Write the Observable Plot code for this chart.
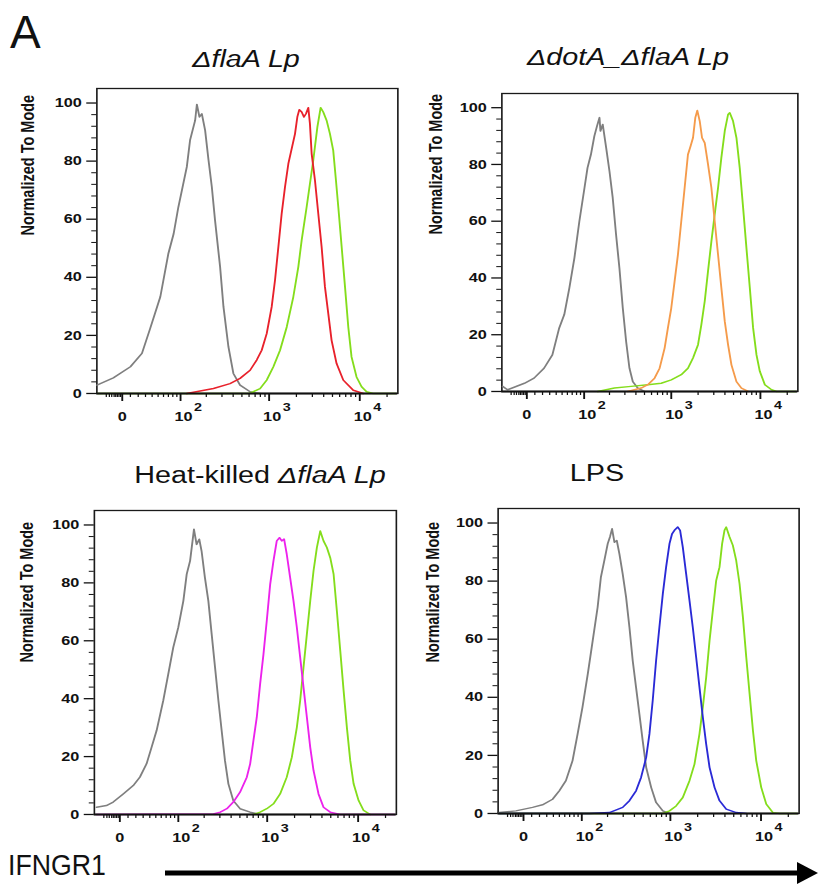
<!DOCTYPE html>
<html>
<head>
<meta charset="utf-8">
<script src="https://cdn.jsdelivr.net/npm/d3@7"></script>
<script src="https://cdn.jsdelivr.net/npm/@observablehq/plot@0.6"></script>
<style>
html, body { margin: 0; padding: 0; background: #fff; }
#page { position: relative; width: 818px; height: 887px; overflow: hidden; font-family: "Liberation Sans", Arial, sans-serif; color: #111; }
#stretch { position: absolute; left: 0; top: 0; width: 654.4px; height: 887px; transform: scaleX(1.25); transform-origin: 0 0; }
.panel { position: absolute; }
.title { position: absolute; font-size: 23px; line-height: 23px; white-space: nowrap; transform: translateX(-50%); }
#letterA { position: absolute; left: 10px; top: 9px; font-size: 46px; line-height: 46px; }
#xname { position: absolute; left: 8px; top: 851px; font-size: 29px; line-height: 29px; transform: scaleX(0.92); transform-origin: 0 0; }
#arrow { position: absolute; left: 0; top: 850px; }
</style>
</head>
<body>
<div id="page">
  <div id="stretch">
    <div class="title" style="left:196.8px; top:47.5px;"><i>ΔflaA Lp</i></div>
    <div class="title" style="left:502.4px; top:45.5px;"><i>ΔdotA_ΔflaA Lp</i></div>
    <div class="title" style="left:208px; top:463.5px;">Heat-killed <i>ΔflaA Lp</i></div>
    <div class="title" style="left:477.6px; top:461.5px;">LPS</div>
  </div>
  <div id="letterA">A</div>
  <div id="xname">IFNGR1</div>
  <svg id="arrow" width="818" height="40">
    <line x1="165" y1="23" x2="802" y2="23" stroke="#000" stroke-width="5"></line>
    <polygon points="797,12 818,23 797,34" fill="#000"></polygon>
  </svg>
</div>
<script>
// ---------------- data: [fluorescence intensity, % of mode] ----------------
const p1Gray = [[-33,2.9],[-11,5.4],[10,9.2],[25,13.8],[37,22.4],[54,33.3],[70,48.2],[82,55],[94,64.2],[104,70],[119,78],[130,87.2],[149,94],[156,99.5],[167,95.2],[178,96.3],[194,90.6],[212,80.3],[231,71.1],[251,59.6],[286,43.6],[312,29.8],[354,16.1],[402,6.9],[477,2.9],[616,0.6],[794,0]];
const p1Red = [[119,0],[241,1.7],[369,3.4],[477,5.2],[616,8.0],[729,11.5],[828,14.9],[940,20.6],[1067,29.8],[1161,39.0],[1265,50.5],[1375,61.9],[1497,71.1],[1630,79.1],[1775,84.3],[1930,89.4],[2048,95.2],[2153,97.7],[2287,96.9],[2422,95.2],[2549,96.3],[2705,98.4],[2820,92.9],[2945,82.6],[3204,73.4],[3487,61.9],[3794,50.5],[4130,36.7],[4495,27.5],[4889,18.3],[5549,10.3],[6581,4.6],[8477,1.1],[10918,0]];
const p1Green = [[-32,0],[600,0],[670,0.6],[794,1.7],[940,4.6],[1114,9.2],[1320,14.9],[1565,22.9],[1850,33.3],[2100,43.6],[2287,52.8],[2594,64.2],[2820,72.2],[3070,80.3],[3406,91.7],[3701,98.4],[3955,96.9],[4308,94],[4690,89.4],[5095,83.7],[5460,73.4],[5796,64.2],[6312,50.5],[6874,36.7],[7469,22.9],[8114,12.6],[9209,5.7],[10476,2.3],[11892,0.6],[14066,0],[25000,0]];

const p2Gray = [[-32,1.8],[-25,0.6],[-3,2.9],[9,4.7],[22,8.2],[34,12.9],[45,22.4],[54,27.1],[64,36.5],[75,47.1],[87,60],[101,71.8],[110,78.8],[121,83.5],[133,90],[143,93.5],[153,96.5],[157,91.8],[167,94.1],[183,85.9],[200,77.6],[218,68.2],[238,55.3],[260,43.5],[284,29.4],[310,17.6],[338,8.2],[369,3.5],[420,1.2],[500,0]];
const p2Orange = [[323,0],[385,0.6],[458,1.2],[545,2.4],[649,4.7],[740,8.2],[842,15.3],[917,22.4],[1000,29.4],[1090,38.8],[1188,48.2],[1295,60],[1413,71.8],[1539,83.5],[1649,86.5],[1754,89.4],[1862,96.5],[1961,99],[2086,95.3],[2215,89.4],[2374,87.6],[2585,80],[2820,71.8],[3072,60],[3350,48.2],[3648,36.5],[3984,24.7],[4337,16.5],[4733,9.4],[5386,3.5],[6127,1.2],[7282,0]];
const p2Green = [[146,0],[228,1.2],[353,1.8],[545,2.4],[771,2.9],[1000,4.1],[1295,5.9],[1539,8.2],[1754,11.8],[1997,16.5],[2174,23.5],[2374,31.8],[2585,42.4],[2820,52.9],[3072,62.4],[3350,71.8],[3648,82.4],[3984,91.8],[4337,97.6],[4531,98.2],[4934,95.3],[5386,89.4],[5863,78.8],[6401,64.7],[6970,50.6],[7608,36.5],[8282,22.4],[9041,12.9],[9845,7.1],[11225,2.4],[13342,0.6],[15178,0],[25000,0]];

const p3Gray = [[-30,2.5],[-16.6,3.1],[-8.1,4.3],[4.1,7.1],[16.6,10],[25.4,12.9],[35,17.5],[42.8,23.2],[51.4,29],[64,39.3],[74.7,48.5],[86.6,57.7],[99.9,64.6],[115,73.8],[126,83],[138,87.6],[153,98.5],[164,93.3],[176,95.1],[187,91],[204,81.8],[223,73.8],[243,62.3],[265,50.8],[289,39.3],[314,29],[342,18.6],[373,10.6],[423,4.8],[502,2],[649,0.8],[836,0]];
const p3Magenta = [[-30,0],[254,0.2],[303,0.8],[359,2],[423,4.3],[502,7.7],[596,12.9],[649,17.5],[705,25.5],[768,33.6],[836,45.1],[910,55.4],[989,66.9],[1078,79.5],[1172,87.6],[1274,94.5],[1365,95.6],[1447,94.5],[1535,95.1],[1641,89.9],[1788,81.8],[1946,73.8],[2119,64.6],[2304,54.3],[2508,43.9],[2731,33.6],[2974,23.2],[3231,15.2],[3667,7.1],[4162,2.5],[4934,0.8],[6357,0],[25000,0]];
const p3Green = [[705,0],[836,0.8],[989,2],[1172,3.7],[1387,7.1],[1641,12.9],[1867,19.8],[2119,30.1],[2304,39.3],[2508,50.8],[2731,62.3],[2974,73.8],[3231,84.1],[3518,92.2],[3830,97.9],[4162,94.5],[4531,92.2],[4934,88.7],[5373,83],[5837,70.3],[6357,56.6],[6922,42.8],[7519,30.1],[8189,18.6],[8916,10.6],[10121,4.8],[11486,1.4],[13589,0]];

const p4Gray = [[-31.7,0.3],[-9.4,0.9],[11.1,2.1],[24.1,3],[38.7,4.9],[49.8,7.8],[62.3,11.3],[76.5,18.2],[88.8,27.4],[102,36.6],[118,48],[135,59.5],[154,71],[168,81.4],[184,87.1],[201,92.9],[213,95.2],[225,98],[239,93.4],[254,94],[272,89.4],[296,82.5],[323,74.5],[352,64.1],[383,52.6],[417,43.4],[454,34.3],[494,25.1],[540,15.9],[613,9],[695,3.8],[825,0.9],[978,0]];
const p4Blue = [[-32,0],[123,0],[210,0.3],[296,2.1],[352,4.4],[417,7.8],[474,12.4],[540,19.3],[587,27.4],[638,38.9],[695,52.6],[756,64.1],[825,75.6],[897,84.8],[978,92.9],[1044,96.3],[1109,97.5],[1207,98.6],[1280,97.5],[1371,91.7],[1493,82.5],[1626,73.3],[1767,64.1],[1925,53.8],[2095,43.4],[2282,33.1],[2484,23.9],[2705,15.9],[3070,9],[3485,4.4],[4133,1.5],[5323,0.3],[6874,0]];
const p4Green = [[-32,0],[825,0],[978,0.9],[1157,2.6],[1371,5.5],[1626,11.3],[1846,17],[2095,27.4],[2282,36.6],[2484,46.9],[2705,59.5],[2940,69.9],[3202,80.2],[3485,84.8],[3725,92.9],[3955,97.5],[4133,98.6],[4500,95.2],[4889,92.3],[5323,87.1],[5796,79.1],[6312,67.6],[6874,53.8],[7486,41.1],[8150,28.5],[8856,18.2],[10051,9],[11434,3.2],[13526,0.3],[16039,0],[25000,0]];

// ---------------- axes ----------------
const yMajor = [0, 20, 40, 60, 80, 100];
const yMinor = [4, 8, 12, 16, 24, 28, 32, 36, 44, 48, 52, 56, 64, 68, 72, 76, 84, 88, 92, 96];
const xTickValues = [0, 100, 1000, 10000];
const xTickBase = ["0", "10", "10", "10"];
const xTickExp = ["", "2", "3", "4"];
const xMinor = [-20, -16, -13, -10, -8, -6, -4, -2, 10, 20, 30, 40, 50, 60, 70, 80, 90,
  200, 300, 400, 500, 600, 700, 800, 900,
  2000, 3000, 4000, 5000, 6000, 7000, 8000, 9000, 20000];
const yLabel = "Normalized To Mode";

const colors = {gray: "#7f7f7f", red: "#e8212b", green: "#84dd1c", orange: "#f59b4b", magenta: "#ec22ec", blue: "#2a2ad6"};

// biexponential-like display transform
const logicle = v => Math.asinh(v / 48) / Math.LN10;
const K = 1.25;

const panels = [
  {L: 96, R: 397, T: 88, B: 393, series: [[colors.gray, p1Gray], [colors.green, p1Green], [colors.red, p1Red]], labelX: 27, labelDy: -5.5},
  {L: 501, R: 797, T: 93, B: 391, series: [[colors.gray, p2Gray], [colors.green, p2Green], [colors.orange, p2Orange]], labelX: 435, labelDy: -8},
  {L: 94, R: 396, T: 510, B: 814, series: [[colors.gray, p3Gray], [colors.green, p3Green], [colors.magenta, p3Magenta]], labelX: 27, labelDy: 0},
  {L: 497, R: 798, T: 508, B: 813, series: [[colors.gray, p4Gray], [colors.green, p4Green], [colors.blue, p4Blue]], labelX: 432, labelDy: 1.5}
];

const stretch = document.getElementById("stretch");
for (const p of panels) {
  const Li = p.L / K, Ri = p.R / K;
  const mL = 72, mR = 8, mT = 6, mB = 45;
  const w = mL + (Ri - Li) + mR;
  const h = mT + (p.B - p.T) + mB;
  const marks = [Plot.frame({stroke: "#1a1a1a", strokeWidth: 1.3})];
  for (const [color, data] of p.series) {
    marks.push(Plot.line(data, {x: d => d[0], y: d => d[1], stroke: color, strokeWidth: 1.5}));
  }
  marks.push(
    Plot.ruleY([0], {stroke: "#111", strokeWidth: 2}),
    Plot.axisY(yMajor, {tickSize: 8, tickPadding: 4, label: null, fontSize: 13, fontWeight: "bold", stroke: "#111", strokeWidth: 1.3}),
    Plot.axisY(yMinor, {tickSize: 4, tickFormat: () => "", label: null, stroke: "#111"}),
    Plot.axisX(xTickValues, {tickSize: 8, tickFormat: () => "", label: null, stroke: "#111", strokeWidth: 1.5}),
    Plot.axisX(xMinor, {tickSize: 4, tickFormat: () => "", label: null, stroke: "#111"}),
    Plot.text([0], {x: i => xTickValues[i], text: i => xTickBase[i], frameAnchor: "bottom", dy: 28, fontSize: 13, fontWeight: "bold", fill: "#111"}),
    Plot.text([1, 2, 3], {x: i => xTickValues[i], text: i => xTickBase[i], frameAnchor: "bottom", dy: 28, dx: 2.4, fontSize: 13, fontWeight: "bold", fill: "#111"}),
    Plot.text([1, 2, 3], {x: i => xTickValues[i], text: i => xTickExp[i], frameAnchor: "bottom", dy: 18, dx: 14, fontSize: 11.5, fontWeight: "bold", fill: "#111"}),
    Plot.text([yLabel], {text: d => d, frameAnchor: "left", rotate: -90, dx: p.labelX / K - Li, dy: p.labelDy, fontSize: 14.5, fontWeight: "bold", fill: "#111"})
  );
  const chart = Plot.plot({
    width: w, height: h,
    marginLeft: mL, marginRight: mR, marginTop: mT, marginBottom: mB,
    x: {transform: logicle, domain: [-0.28, 3.04]},
    y: {domain: [0, 105]},
    style: {fontFamily: "'Liberation Sans', Arial, sans-serif", fontWeight: "bold", fontSize: "13px", background: "transparent", overflow: "visible", color: "#111"},
    marks
  });
  const div = document.createElement("div");
  div.className = "panel";
  div.style.left = (Li - mL) + "px";
  div.style.top = (p.T - mT) + "px";
  div.appendChild(chart);
  stretch.appendChild(div);
}
</script>
</body>
</html>
